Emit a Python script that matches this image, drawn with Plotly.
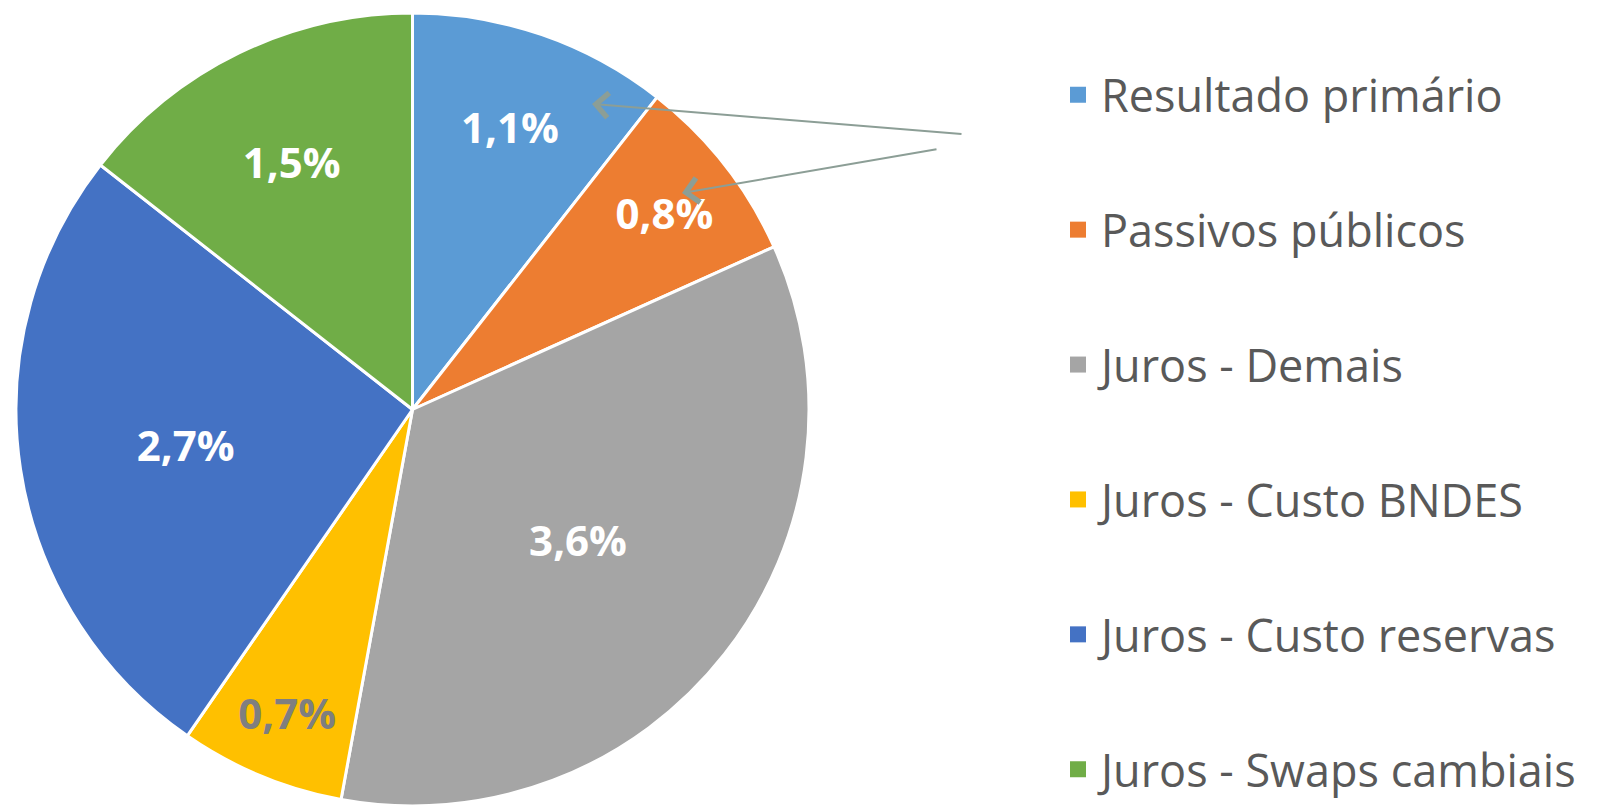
import plotly.graph_objects as go

# composição (p.p. do PIB)
categorias = ["Resultado primário", "Passivos públicos", "Juros - Demais",
              "Juros - Custo BNDES", "Juros - Custo reservas", "Juros - Swaps cambiais"]
valores = [1.1, 0.8, 3.6, 0.7, 2.7, 1.5]
rotulos = ["1,1%", "0,8%", "3,6%", "0,7%", "2,7%", "1,5%"]

cores = ["#5B9BD5", "#ED7D31", "#A5A5A5", "#FFC000", "#4472C4", "#70AD47"]
cor_texto = ["white", "white", "white", "#7F7F7F", "white", "white"]

W, H = 1599, 806

fig = go.Figure()
fig.add_trace(go.Pie(
    labels=categorias,
    values=valores,
    text=rotulos,
    textinfo="text",
    textposition="inside",
    insidetextorientation="horizontal",
    textfont=dict(family="Open Sans", size=42, color=cor_texto, weight="bold"),
    marker=dict(colors=cores, line=dict(color="white", width=3)),
    sort=False,
    direction="clockwise",
    rotation=0,
    hoverinfo="skip",
    showlegend=False,
    domain=dict(x=[14 / W, 811 / W], y=[0, 1 - 13 / H]),
))

# legenda com quadrados maiores e espaçamento largo (um grupo por categoria)
for nome, cor in zip(categorias, cores):
    fig.add_trace(go.Scatter(
        x=[None], y=[None], mode="markers", name=nome, legendgroup=nome,
        marker=dict(symbol="square", size=20, color=cor),
        hoverinfo="skip",
    ))

# linhas de chamada (como no original)
setas = [(592, 104, 963, 134), (682, 193, 938, 149)]
for xh, yh, xt, yt in setas:
    fig.add_annotation(
        x=xh / W, y=1 - yh / H, xref="paper", yref="paper",
        ax=xt - xh, ay=yt - yh, text="", showarrow=True,
        arrowhead=4, arrowsize=2.4, arrowwidth=2, arrowcolor="#8C9E96",
    )

fig.update_layout(
    width=W, height=H,
    margin=dict(l=0, r=0, t=0, b=0),
    paper_bgcolor="white",
    plot_bgcolor="white",
    font=dict(family="Open Sans", color="#595959"),
    xaxis=dict(visible=False),
    yaxis=dict(visible=False),
    showlegend=True,
    legend=dict(
        x=1055 / W, y=1 - 59 / H, xanchor="left", yanchor="top",
        font=dict(size=45, color="#595959", family="Open Sans"),
        tracegroupgap=73.4, itemwidth=36,
        bgcolor="rgba(0,0,0,0)",
    ),
)

fig.write_html("out.html", config={"displayModeBar": False},
               post_script="document.body.style.margin='0';")
